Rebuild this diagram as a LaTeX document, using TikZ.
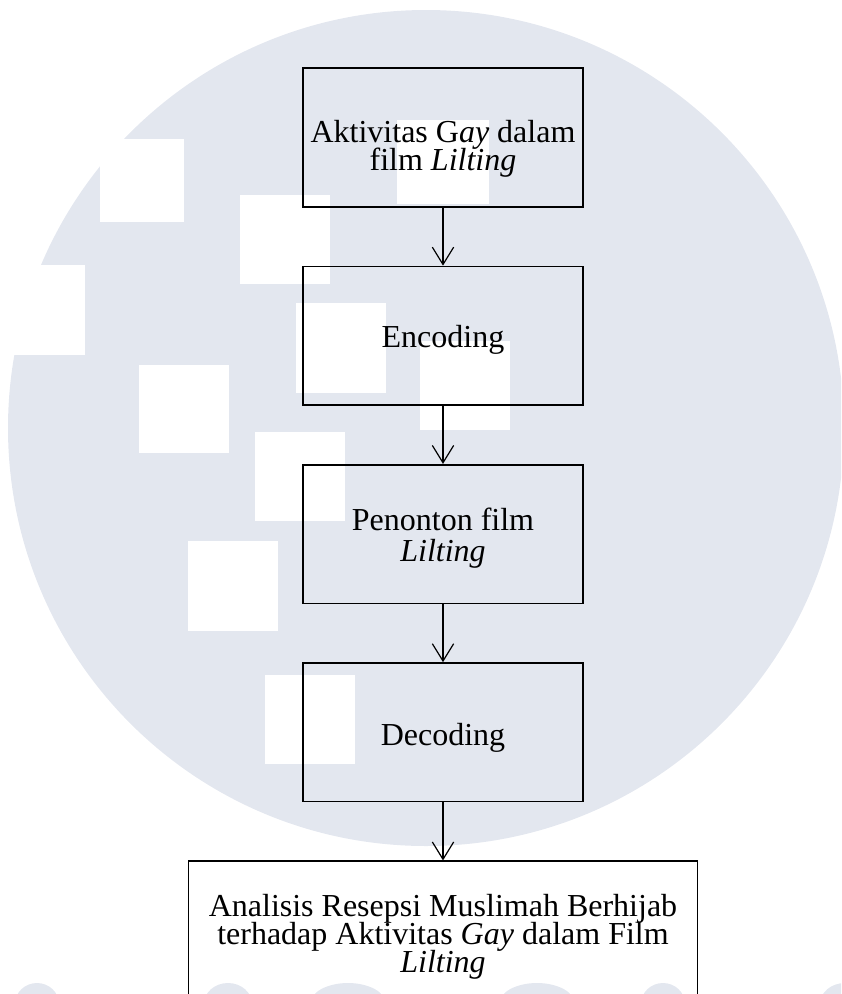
\documentclass[tikz,border=0pt]{standalone}
\usepackage{fontspec}
\setmainfont{Liberation Serif}
\usepackage{tikz}
\usetikzlibrary{positioning, arrows.meta}
\usepackage{xcolor}
\definecolor{WatermarkGrey}{HTML}{E3E7EF}
\setlength{\lineskiplimit}{-20pt}
\newcommand{\dropline}[1]{\vrule height #1 depth 0pt width 0pt\relax}

\begin{document}
\begin{tikzpicture}[x=0.375pt, y=-0.375pt,
    flowbox/.style={draw, line width=0.6pt, align=center, minimum width=105pt,
        minimum height=52pt, inner sep=2pt, font=\fontsize{12}{10.5}\selectfont},
    flowarrow/.style={-{Straight Barb[length=6.5pt, width=8pt]}, line width=0.45pt},
    node distance=21.75pt]
    \useasboundingbox (0,0) rectangle (841,994);
    \clip (0,0) rectangle (841,994);

    % Watermark background
    \fill[WatermarkGrey] (426,428) circle [radius=418];
    \foreach \x/\y/\w/\h in {100/139/84/83, 240/195/90/89, 0/265/85/90, 296/303/90/90,
        139/365/90/88, 397/120/92/84, 420/341/90/89, 255/432/90/89,
        188/541/90/90, 265/675/90/89}
        \fill[white] (\x,\y) rectangle ++(\w,\h);
    \foreach \cx/\rx in {37/22, 228/24, 348/38, 537/38, 663/22, 845/25}
        \fill[WatermarkGrey] (\cx,1004) ellipse [x radius=\rx, y radius=21];

    % Flow boxes
    \node[flowbox] (aktivitas) at (443,137.5) {\dropline{16.5pt}Aktivitas G\textit{ay} dalam\\ film \textit{Lilting}};
    \node[flowbox, below=of aktivitas] (encoding) {\dropline{11.2pt}Encoding};
    \node[flowbox, below=of encoding, font=\fontsize{12}{11.6}\selectfont] (penonton)
        {\dropline{11.2pt}Penonton film\\ \textit{Lilting}};
    \node[flowbox, below=of penonton] (decoding) {\dropline{12.7pt}Decoding};
    \node[flowbox, below=of decoding, minimum width=191pt, minimum height=57pt] (analisis)
        {Analisis Resepsi Muslimah Berhijab\\ terhadap Aktivitas \textit{Gay} dalam Film\\ \textit{Lilting}};

    % Arrows
    \draw[flowarrow] (aktivitas) -- (encoding);
    \draw[flowarrow] (encoding) -- (penonton);
    \draw[flowarrow] (penonton) -- (decoding);
    \draw[flowarrow] (decoding) -- (analisis);
\end{tikzpicture}
\end{document}
